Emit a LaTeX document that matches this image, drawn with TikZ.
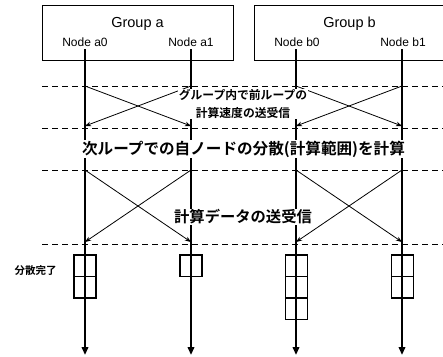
\documentclass[tikz,border=0pt]{standalone}
\usepackage{fontspec}
\setmainfont{Liberation Sans}
\newfontfamily\jpfont{Noto Sans CJK JP}[BoldFont={Noto Sans CJK JP Bold}]
\usetikzlibrary{arrows.meta}

\begin{document}
\begin{tikzpicture}[x=1pt,y=-1pt,
  groupbox/.style={draw, line width=0.8pt, minimum width=191pt, minimum height=55pt,
    inner sep=0pt, anchor=north west},
  grouplabel/.style={font=\fontsize{14.5}{16}\selectfont, inner sep=0pt},
  nodelabel/.style={font=\fontsize{12}{14}\selectfont, inner sep=0pt},
  lane/.style={line width=2pt, -{Triangle[width=6.5pt,length=8pt]}},
  xfer/.style={line width=0.8pt, -{Stealth[length=6pt,width=4.5pt]}},
  phase/.style={line width=0.8pt, dash pattern=on 6pt off 4pt},
  phasetext/.style={fill=white, inner sep=1pt, font=\jpfont\bfseries},
  cell/.style={draw, line width=1.3pt, minimum width=22pt, minimum height=21.5pt, inner sep=0pt},
]
\useasboundingbox (0,0) rectangle (443,356);

% groups and their members
\node[groupbox] (ga) at (42,5) {};
\node[groupbox] (gb) at (254,5) {};
\node[grouplabel] (galab) at (137.5,24) {Group a};
\node[grouplabel] (gblab) at (349.5,24) {Group b};
\node[nodelabel] (na0) at (85,42) {Node a0};
\node[nodelabel] (na1) at (191,42) {Node a1};
\node[nodelabel] (nb0) at (297,42) {Node b0};
\node[nodelabel] (nb1) at (403,42) {Node b1};

% lane points
\foreach \n/\x in {a0/85, a1/191, b0/296, b1/402} {
  \coordinate (\n top) at (\x,49);
  \coordinate (\n p1) at (\x,86);
  \coordinate (\n p2) at (\x,126);
  \coordinate (\n p3) at (\x,170);
  \coordinate (\n p4) at (\x,242);
  \coordinate (\n end) at (\x,355);
}

% phase separators
\foreach \i/\y in {1/86, 2/128, 3/170, 4/244} {
  \coordinate (sepL\i) at (42,\y);
  \coordinate (sepR\i) at (446,\y);
  \draw[phase] (sepL\i) -- (sepR\i);
}

% time lines of each node
\foreach \n in {a0, a1, b0, b1}
  \draw[lane] (\n top) -- (\n end);

% exchange of the previous loop's speed within each group
\draw[xfer] (a0p1) -- (a1p2);
\draw[xfer] (a1p1) -- (a0p2);
\draw[xfer] (b0p1) -- (b1p2);
\draw[xfer] (b1p1) -- (b0p2);

% exchange of computation data
\draw[xfer] (a0p3) -- (a1p4);
\draw[xfer] (a1p3) -- (a0p4);
\draw[xfer] (b0p3) -- (b1p4);
\draw[xfer] (b1p3) -- (b0p4);

% phase captions
\node[phasetext, font=\jpfont\bfseries\fontsize{11.8}{13}\selectfont, align=center, inner sep=0.5pt]
  (t1) at (243,104) {グループ内で前ループの\\[4.5pt]計算速度の送受信};
\node[phasetext, font=\jpfont\bfseries\fontsize{15.6}{17}\selectfont] (t2) at (243.5,149)
  {次ループでの自ノードの分散(計算範囲)を計算};
\node[phasetext, font=\jpfont\bfseries\fontsize{15.3}{17}\selectfont] (t3) at (243,217)
  {計算データの送受信};
\node[font=\jpfont\bfseries\fontsize{10.5}{12}\selectfont, inner sep=0pt] (done) at (35.5,271) {分散完了};

% assigned work blocks
\node[cell] (a0c1) at (85,265.75) {};
\node[cell] (a0c2) at (85,287.25) {};
\node[cell] (a1c1) at (191,265.75) {};
\node[cell] (b0c1) at (296.5,265.75) {};
\node[cell] (b0c2) at (296.5,287.25) {};
\node[cell] (b0c3) at (296.5,308.75) {};
\node[cell] (b1c1) at (402.5,265.75) {};
\node[cell] (b1c2) at (402.5,287.25) {};
\end{tikzpicture}
\end{document}
